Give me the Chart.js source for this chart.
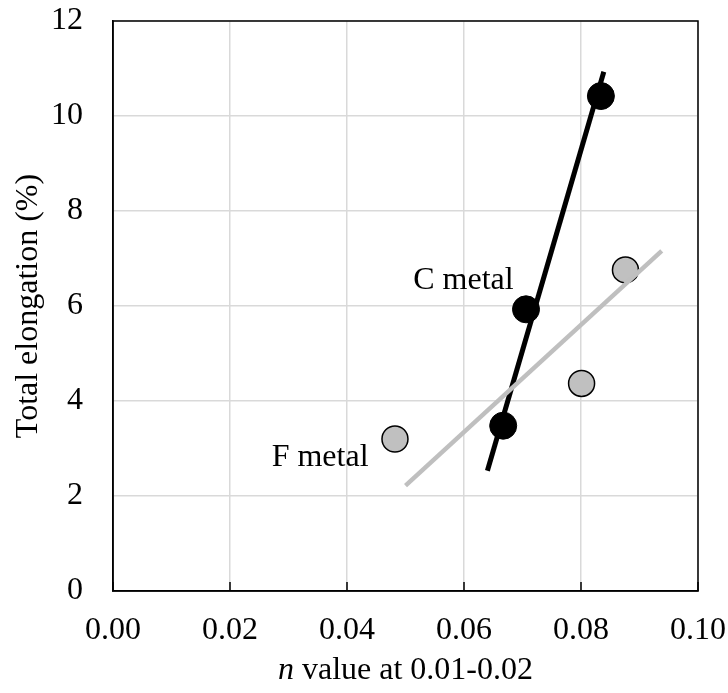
<!DOCTYPE html>
<html>
<head>
<meta charset="utf-8">
<script src="https://cdn.jsdelivr.net/npm/chart.js@4.4.1/dist/chart.umd.min.js"></script>
<style>
  html, body { margin: 0; padding: 0; background: #fff; }
  #wrap { width: 728px; height: 693px; position: relative; }
</style>
</head>
<body>
<div id="wrap"><canvas id="chart"></canvas></div>
<script>
// values
const cMetalN = [0.0667, 0.0706, 0.0834];
const cMetalEl = [3.48, 5.93, 10.42];
const fMetalN = [0.0482, 0.0801, 0.0876];
const fMetalEl = [3.20, 4.37, 6.76];

// fitted trend lines (end points)
const cTrendN = [0.0640, 0.0839];
const cTrendEl = [2.53, 10.93];
const fTrendN = [0.0500, 0.0938];
const fTrendEl = [2.22, 7.16];

const xTicks = [0, 0.02, 0.04, 0.06, 0.08, 0.10];
const yTicks = [0, 2, 4, 6, 8, 10, 12];

const labelText = ['C metal', 'F metal'];
const labelN = [0.0599, 0.0354];
const labelEl = [6.53, 2.80];

const serif = '"Liberation Serif", "Times New Roman", serif';
const fs = 32;

function pts(xs, ys) {
    return xs.map((x, i) => ({ x: x, y: ys[i] }));
}

// the scales should not push the plot area around
function noPad(s) {
    s.paddingTop = 0;
    s.paddingBottom = 0;
    s.paddingLeft = 0;
    s.paddingRight = 0;
}

// frame, inside tick marks, x title with italic n, and point labels
const extras = {
    id: 'extras',
    afterDraw(chart) {
        const ctx = chart.ctx;
        const a = chart.chartArea;
        const xs = chart.scales.x;
        const ys = chart.scales.y;
        ctx.save();
        ctx.strokeStyle = '#000';
        ctx.lineWidth = 1.5;
        ctx.strokeRect(a.left, a.top, a.right - a.left, a.bottom - a.top);

        // small tick marks on the bottom axis
        ctx.beginPath();
        xTicks.forEach(v => {
            const px = xs.getPixelForValue(v);
            ctx.moveTo(px, a.bottom);
            ctx.lineTo(px, a.bottom - 9);
        });
        ctx.stroke();

        // text labels
        ctx.fillStyle = '#000';
        ctx.font = fs + 'px ' + serif;
        ctx.textAlign = 'center';
        ctx.textBaseline = 'middle';
        labelText.forEach((t, i) => {
            ctx.fillText(t, xs.getPixelForValue(labelN[i]), ys.getPixelForValue(labelEl[i]));
        });

        // x axis title
        const rest = ' value at 0.01-0.02';
        ctx.font = 'italic ' + fs + 'px ' + serif;
        const w1 = ctx.measureText('n').width;
        ctx.font = fs + 'px ' + serif;
        const w2 = ctx.measureText(rest).width;
        const cx = (a.left + a.right) / 2;
        const x0 = cx - (w1 + w2) / 2;
        const ty = 671;
        ctx.textAlign = 'left';
        ctx.font = 'italic ' + fs + 'px ' + serif;
        ctx.fillText('n', x0, ty);
        ctx.font = fs + 'px ' + serif;
        ctx.fillText(rest, x0 + w1, ty);
        ctx.restore();
    }
};

const ctx = document.getElementById('chart').getContext('2d');
new Chart(ctx, {
    type: 'scatter',
    data: {
        datasets: [
            {
                label: 'F metal fit',
                data: pts(fTrendN, fTrendEl),
                showLine: true,
                borderColor: '#bfbfbf',
                borderWidth: 4.5,
                pointRadius: 0,
                order: 0
            },
            {
                label: 'C metal fit',
                data: pts(cTrendN, cTrendEl),
                showLine: true,
                borderColor: '#000',
                borderWidth: 5,
                pointRadius: 0,
                order: 1
            },
            {
                label: 'C metal',
                data: pts(cMetalN, cMetalEl),
                backgroundColor: '#000',
                borderColor: '#000',
                borderWidth: 1,
                pointRadius: 13.5,
                order: 2
            },
            {
                label: 'F metal',
                data: pts(fMetalN, fMetalEl),
                backgroundColor: '#c0c0c0',
                borderColor: '#000',
                borderWidth: 1.5,
                pointRadius: 13,
                order: 3
            }
        ]
    },
    options: {
        responsive: true,
        maintainAspectRatio: false,
        animation: false,
        layout: { padding: { top: 21, right: 30, left: 0, bottom: 0 } },
        plugins: {
            legend: { display: false },
            tooltip: { enabled: false }
        },
        scales: {
            x: {
                type: 'linear',
                min: 0,
                max: 0.1,
                afterFit: s => { s.height = 102; noPad(s); },
                afterBuildTicks: s => { s.ticks = xTicks.map(v => ({ value: v })); },
                grid: { color: '#d9d9d9', lineWidth: 1.5, drawTicks: false },
                border: { color: '#000', width: 1.5 },
                ticks: {
                    padding: 20,
                    color: '#000',
                    maxRotation: 0,
                    font: { family: serif, size: fs },
                    callback: v => v.toFixed(2)
                },
                title: { display: false }
            },
            y: {
                min: 0,
                max: 12,
                afterFit: s => { s.width = 113; noPad(s); },
                afterBuildTicks: s => { s.ticks = yTicks.map(v => ({ value: v })); },
                grid: { color: '#d9d9d9', lineWidth: 1.5, drawTicks: false },
                border: { color: '#000', width: 1.5 },
                ticks: {
                    padding: 30,
                    color: '#000',
                    font: { family: serif, size: fs },
                    callback: v => String(v)
                },
                title: {
                    display: true,
                    text: 'Total elongation (%)',
                    color: '#000',
                    font: { family: serif, size: fs },
                    padding: { top: 9, bottom: 0 }
                }
            }
        }
    },
    plugins: [extras]
});
</script>
</body>
</html>
